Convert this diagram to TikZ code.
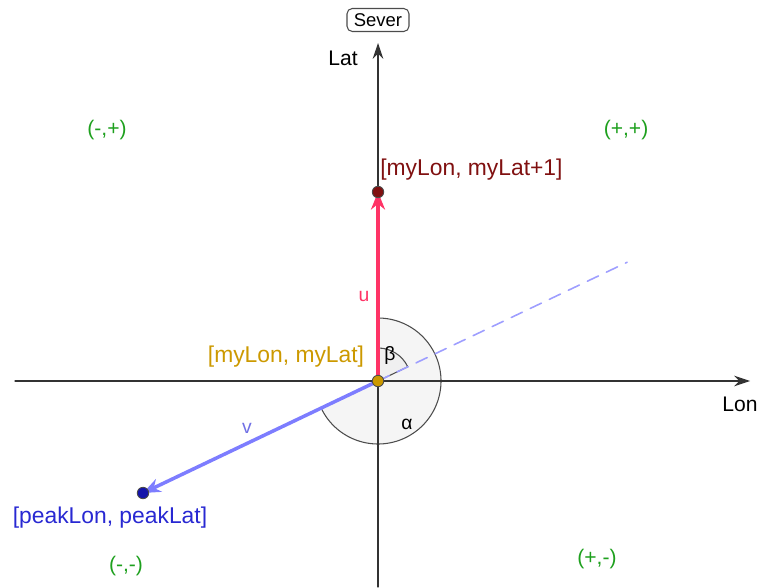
\documentclass[tikz,border=0pt]{standalone}
\usepackage{fontspec}
\setmainfont{Liberation Sans}
\usetikzlibrary{calc,arrows.meta,positioning}

\definecolor{uRed}{RGB}{255,51,102}
\definecolor{pRed}{RGB}{128,16,16}
\definecolor{vBlue}{RGB}{125,125,255}
\definecolor{qBlue}{RGB}{20,20,170}
\definecolor{qLab}{RGB}{40,40,210}
\definecolor{oGold}{RGB}{204,153,0}
\definecolor{quadGreen}{RGB}{30,160,30}

\tikzset{
  axis/.style={line width=0.6pt,black!80,-{Stealth[length=9pt,width=6pt]}},
  quad/.style={text=quadGreen,font=\fontsize{12}{14}\selectfont},
  angfill/.style={fill=black!6,draw=black!70,line width=0.6pt},
  ptdot/.style={circle,draw=black!70,line width=0.5pt,inner sep=0pt,minimum size=6.5pt}
}

\begin{document}
\begin{tikzpicture}[x=0.02cm,y=-0.02cm,>=Stealth,line join=round,line cap=round]
  \useasboundingbox (0,0) rectangle (759,587);
  \coordinate (O) at (378,381);
  \coordinate (P) at (378,192);
  \coordinate (Q) at (143,493);
  \coordinate (R) at ($(O)!-1.06!(Q)$);
  \coordinate (xl) at (15,381);
  \coordinate (xr) at (750,381);
  \coordinate (yb) at (378,587);
  \coordinate (yt) at (378,43);

  % angles (y axis points down, so angles are negated)
  \fill[black!4] (O) -- ++(-205.5:63) arc (-205.5:-450:63) -- cycle;
  \draw[black!70,line width=0.6pt] (O) ++(-205.5:63) arc (-205.5:-450:63);
  \draw[angfill] (O) -- ++(-25.5:33) arc (-25.5:-90:33) -- cycle;

  % axes
  \draw[axis] (xl) -- (xr);
  \draw[axis] (yb) -- (yt);
  \node[draw=black!70,rounded corners=3pt,line width=0.6pt,minimum width=62*0.02cm,minimum height=23*0.02cm,inner sep=0pt,font=\fontsize{10.5}{12}\selectfont] (sever) at (378,20) {Sever};
  \node[font=\fontsize{12}{14}\selectfont] (lat) at (343,58) {Lat};
  \node[font=\fontsize{12}{14}\selectfont] (lon) at (740,404) {Lon};

  % dashed continuation
  \draw[vBlue!75,dash pattern=on 7pt off 5pt,line width=0.9pt] (O) -- (R);

  % vectors
  \draw[uRed,line width=2.2pt,-{Stealth[length=10pt,width=8pt]}] (O) -- (P);
  \draw[vBlue,line width=2pt,-{Stealth[length=10pt,width=8pt]}] (O) -- (Q);
  \node[text=uRed,font=\fontsize{11}{13}\selectfont] (ulab) at (364,296) {u};
  \node[text=vBlue!90!black,font=\fontsize{11}{13}\selectfont] (vlab) at (247,428) {v};

  % angle labels
  \node[font=\fontsize{11}{13}\selectfont] (beta) at (390,355) {β};
  \node[font=\fontsize{11}{13}\selectfont] (alpha) at (407,424) {α};

  % points
  \node[ptdot,fill=pRed] (p) at (P) {};
  \node[ptdot,fill=qBlue] (q) at (Q) {};
  \node[ptdot,fill=oGold] (o) at (O) {};
  \node[text=pRed,anchor=west,inner sep=0pt,font=\fontsize{13}{15}\selectfont] (plab) at (380,170) {[myLon, myLat+1]};
  \node[text=qLab,font=\fontsize{13}{15}\selectfont] (qlab) at (110,518) {[peakLon, peakLat]};
  \node[text=oGold,font=\fontsize{13}{15}\selectfont] (olab) at (286,357) {[myLon, myLat]};

  % quadrants
  \node[quad] (q2) at (107,130) {(-,+)};
  \node[quad] (q1) at (626,130) {(+,+)};
  \node[quad] (q3) at (126,566) {(-,-)};
  \node[quad] (q4) at (597,559) {(+,-)};
\end{tikzpicture}
\end{document}
